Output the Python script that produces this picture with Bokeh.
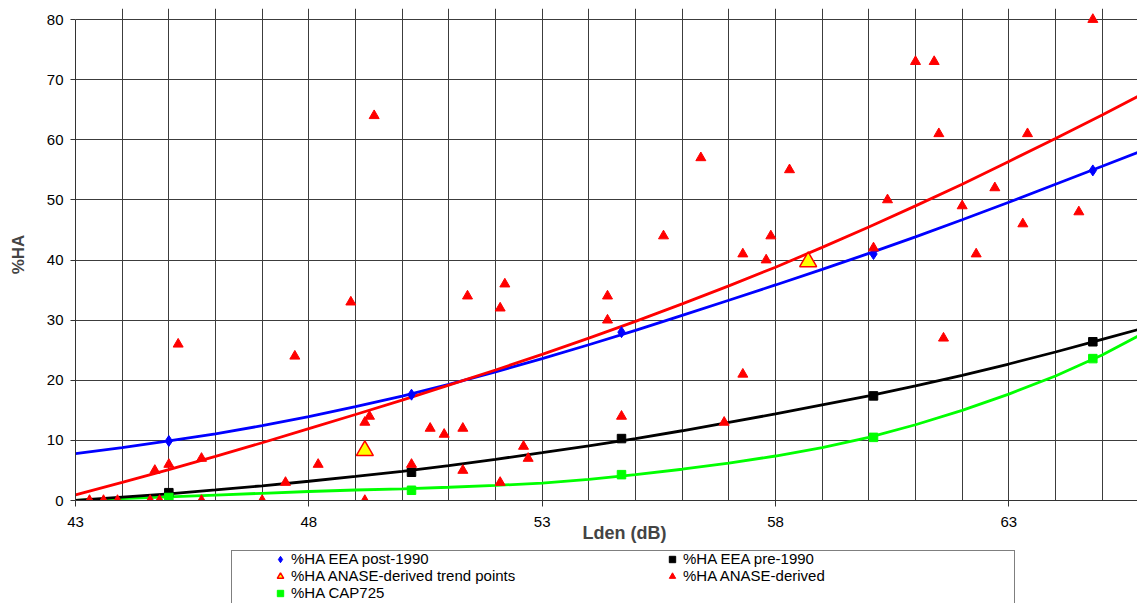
import numpy as np
from bokeh.plotting import figure
from bokeh.layouts import column
from bokeh.models import (Range1d, FixedTicker, Legend, LegendItem, Title)
from bokeh.embed import file_html
from bokeh.resources import INLINE

# ---------------- data ----------------
# EEA / CAP725 reference points
eea_x = [45.0, 50.2, 54.7, 60.1, 64.8]
eea_post1990 = [9.9, 17.6, 28.0, 41.0, 54.9]
eea_pre1990 = [1.3, 4.7, 10.3, 17.4, 26.4]
cap725 = [0.5, 1.7, 4.3, 10.5, 23.6]

# ANASE-derived trend points
trend_x = [49.2, 58.7]
trend_y = [8.3, 39.7]

# ANASE-derived scatter
anase_x = [43.3, 43.6, 43.9, 44.6, 44.8, 44.7, 45.0, 45.2, 45.7, 45.7,
           47.0, 47.5, 47.7, 48.2, 48.9, 49.2, 49.3, 49.2, 49.4, 50.2,
           50.6, 50.9, 51.3, 51.3, 51.4, 52.1, 52.1, 52.2, 52.6, 52.7,
           54.4, 54.4, 54.7, 55.6, 56.4, 56.9, 57.3, 57.3, 57.8, 57.9,
           58.3, 60.1, 60.4, 61.0, 61.4, 61.5, 61.6, 62.0, 62.3, 62.7,
           63.3, 63.4, 64.5, 64.8]
anase_y = [0, 0, 0, 0, 0, 5, 6, 26, 7, 0,
           0, 3, 24, 6, 33, 13, 14, 0, 64, 6,
           12, 11, 12, 5, 34, 3, 32, 36, 9, 7,
           34, 30, 14, 44, 57, 13, 21, 41, 40, 44,
           55, 42, 50, 73, 73, 61, 27, 49, 41, 52,
           46, 61, 48, 80]

# Trend curves
curve_x = [43, 44, 45, 46, 47, 48, 49, 50, 51, 52, 53, 54, 55, 56, 57, 58,
           59, 60, 61, 62, 63, 64, 65, 65.76]
curve_post1990 = [7.8, 8.8, 9.9, 11.1, 12.45, 13.95, 15.6, 17.35, 19.3, 21.4,
                  23.6, 25.9, 28.3, 30.8, 33.3, 35.85, 38.45, 41.1, 43.85, 46.7,
                  49.6, 52.6, 55.6, 57.9]
curve_anase = [0.95, 3.0, 5.15, 7.35, 9.6, 11.95, 14.3, 16.7, 19.2, 21.7,
               24.3, 27.0, 29.8, 32.7, 35.7, 38.8, 42.1, 45.5, 49.0, 52.6,
               56.4, 60.2, 64.1, 67.2]
curve_pre1990 = [0.0, 0.55, 1.1, 1.75, 2.45, 3.2, 4.0, 4.85, 5.8, 6.85,
                 7.95, 9.1, 10.3, 11.6, 13.0, 14.4, 15.9, 17.4, 19.05, 20.8,
                 22.7, 24.7, 26.8, 28.4]
curve_cap725 = [0.0, 0.3, 0.6, 0.9, 1.2, 1.5, 1.75, 1.95, 2.2, 2.5,
                2.9, 3.5, 4.3, 5.2, 6.2, 7.4, 8.8, 10.5, 12.6, 15.0,
                17.7, 20.7, 24.2, 27.3]

x_tick_labels = [43, 48, 53, 58, 63]
y_tick_labels = [0, 10, 20, 30, 40, 50, 60, 70, 80]

legend_labels = ["%HA EEA post-1990", "%HA EEA pre-1990",
                 "%HA ANASE-derived trend points", "%HA ANASE-derived",
                 "%HA CAP725"]

FONT = "Liberation Sans"
W = 1137

# ---------------- main plot ----------------
p = figure(width=W, height=545,
           x_range=Range1d(43, 65.757), y_range=Range1d(0, 81.83),
           output_backend="svg", toolbar_location=None,
           min_border_left=75, min_border_right=0,
           min_border_top=8, min_border_bottom=45)
p.outline_line_color = None
p.background_fill_color = "white"

p.xaxis.ticker = FixedTicker(ticks=x_tick_labels, minor_ticks=[])
p.yaxis.ticker = FixedTicker(ticks=y_tick_labels, minor_ticks=[])
p.yaxis.bounds = (0, 80)
for ax in (p.xaxis, p.yaxis):
    ax.axis_line_color = "#333333"
    ax.major_tick_line_color = "#333333"
    ax.major_tick_in = 0
    ax.minor_tick_line_color = None
    ax.major_label_text_font = FONT
    ax.major_label_text_font_size = "15px"
    ax.major_label_text_color = "black"
p.xaxis.major_tick_out = 6
p.xaxis.major_label_standoff = 10
p.yaxis.major_tick_out = 5
p.yaxis.major_label_standoff = 7
p.yaxis.axis_label = "%HA"
p.yaxis.axis_label_text_font = FONT
p.yaxis.axis_label_text_font_style = "bold"
p.yaxis.axis_label_text_font_size = "17px"
p.yaxis.axis_label_standoff = 16

p.xgrid.ticker = FixedTicker(ticks=list(np.arange(43, 66)))
p.ygrid.ticker = FixedTicker(ticks=y_tick_labels)
p.xgrid.bounds = (0, 80)
for g in (p.xgrid, p.ygrid):
    g.grid_line_color = "#3c3c3c"
    g.grid_line_alpha = 1

p.add_layout(Title(text="Lden (dB)", align="left", offset=507, standoff=-17,
                   text_font=FONT, text_font_style="bold",
                   text_font_size="18px"), "below")

# curves
LW = 2.8
p.line(curve_x, curve_cap725, line_color="#00FF00", line_width=LW)
p.line(curve_x, curve_pre1990, line_color="black", line_width=LW)
p.line(curve_x, curve_post1990, line_color="#0000FF", line_width=LW)
p.line(curve_x, curve_anase, line_color="#FF0000", line_width=LW)

styles = {
    "post": dict(marker="diamond", size=11, fill_color="#0000FF", line_color="#0000FF"),
    "pre": dict(marker="square", size=8.5, fill_color="black", line_color="black"),
    "trend": dict(marker="triangle", size=17, fill_color="#FFFF00",
                  line_color="#FF0000", line_width=1.5),
    "anase": dict(marker="triangle", size=10, fill_color="#FF0000", line_color="#FF0000"),
    "cap": dict(marker="square", size=8.5, fill_color="#00FF00", line_color="#00FF00"),
}
series = {
    "post": (eea_x, eea_post1990),
    "pre": (eea_x, eea_pre1990),
    "trend": (trend_x, trend_y),
    "anase": (anase_x, anase_y),
    "cap": (eea_x, cap725),
}

for k in ("post", "pre", "cap", "anase", "trend"):
    xs, ys = series[k]
    p.scatter(xs, ys, **styles[k])

# ---------------- legend strip ----------------
# (the series are re-plotted here outside the visible range, only so that
#  the legend can draw their markers)
p2 = figure(width=W, height=58, x_range=Range1d(0, 1), y_range=Range1d(0, 1),
            output_backend="svg", toolbar_location=None,
            x_axis_location=None, y_axis_location=None,
            min_border_left=0, min_border_right=0,
            min_border_top=0, min_border_bottom=0)
p2.outline_line_color = None
p2.xgrid.visible = False
p2.ygrid.visible = False

order = ("post", "pre", "trend", "anase", "cap")
proxies = [p2.scatter(series[k][0], series[k][1], **styles[k]) for k in order]
r_dummy = p2.scatter(eea_x, eea_post1990, size=0, alpha=0)

box = Legend(items=[LegendItem(label=" ", renderers=[r_dummy])],
             location=(156, -9), padding=0, margin=0,
             glyph_width=1, glyph_height=60, label_height=60,
             label_width=781, label_standoff=0,
             border_line_color="black", border_line_width=1,
             background_fill_color="white", background_fill_alpha=1)
p2.add_layout(box)

legend = Legend(items=[LegendItem(label=lab, renderers=[r])
                       for lab, r in zip(legend_labels, proxies)],
                orientation="horizontal", ncols=2,
                location=(196, 2), padding=0, margin=0, spacing=0,
                glyph_width=18, glyph_height=16, label_height=16,
                label_width=372, label_standoff=2,
                label_text_font=FONT, label_text_font_size="15px",
                label_text_color="black",
                border_line_alpha=0, background_fill_alpha=0)
p2.add_layout(legend)

open("out.html", "w").write(file_html(column(p, p2, spacing=0), INLINE))
